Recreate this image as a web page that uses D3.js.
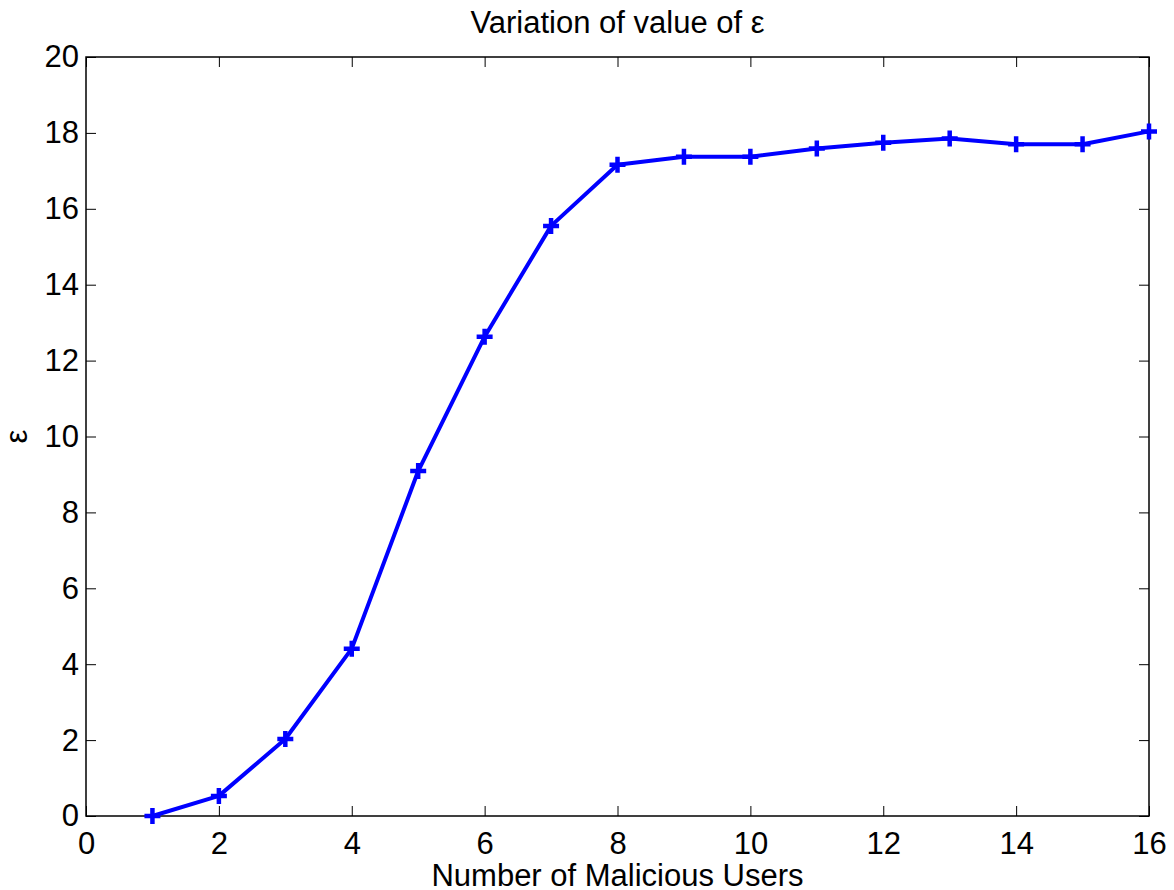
<!DOCTYPE html>
<html>
<head>
<meta charset="utf-8">
<script src="https://cdn.jsdelivr.net/npm/d3@7"></script>
<style>
  body { margin: 0; background: #fff; }
  text { font-family: "Liberation Sans", Arial, sans-serif; fill: #000; }
</style>
</head>
<body>
<svg id="chart" width="1174" height="890"></svg>
<script>
const users = [1, 2, 3, 4, 5, 6, 7, 8, 9, 10, 11, 12, 13, 14, 15, 16];
const epsilon = [0, 0.53, 2.03, 4.41, 9.09, 12.63, 15.55, 17.16, 17.37, 17.37, 17.59, 17.74, 17.85, 17.70, 17.70, 18.04];
const xTicks = [0, 2, 4, 6, 8, 10, 12, 14, 16];
const yTicks = [0, 2, 4, 6, 8, 10, 12, 14, 16, 18, 20];

const svg = d3.select('#chart');
const margin = { top: 57, right: 25, bottom: 74, left: 86 };
const width = 1174, height = 890;
const innerWidth = width - margin.left - margin.right;
const innerHeight = height - margin.top - margin.bottom;

const x = d3.scaleLinear().domain([0, 16]).range([margin.left, margin.left + innerWidth]);
const y = d3.scaleLinear().domain([0, 20]).range([margin.top + innerHeight, margin.top]);

const fontSize = 31;

// frame
svg.append('rect')
  .attr('x', x(0)).attr('y', y(20))
  .attr('width', x(16) - x(0)).attr('height', y(0) - y(20))
  .attr('fill', 'none').attr('stroke', '#000').attr('stroke-width', 1.5);

// inward ticks on all four sides
const tickLen = 10;
const xAxis = d3.axisBottom(x).tickValues(xTicks).tickSizeInner(-tickLen).tickSizeOuter(0).tickPadding(16);
const gx = svg.append('g').attr('transform', 'translate(0,' + y(0) + ')').call(xAxis);
const xTop = d3.axisTop(x).tickValues(xTicks).tickSizeInner(-tickLen).tickSizeOuter(0).tickFormat('');
const gxt = svg.append('g').attr('transform', 'translate(0,' + y(20) + ')').call(xTop);
const yAxis = d3.axisLeft(y).tickValues(yTicks).tickSizeInner(-tickLen).tickSizeOuter(0).tickPadding(7);
const gy = svg.append('g').attr('transform', 'translate(' + x(0) + ',0)').call(yAxis);
const yRight = d3.axisRight(y).tickValues(yTicks).tickSizeInner(-tickLen).tickSizeOuter(0).tickFormat('');
const gyr = svg.append('g').attr('transform', 'translate(' + x(16) + ',0)').call(yRight);

[gx, gxt, gy, gyr].forEach(g => {
  g.attr('font-size', null).attr('font-family', null);
  g.select('.domain').remove();
  g.selectAll('line').attr('stroke', '#000').attr('stroke-width', 1);
  g.selectAll('text').style('font-size', fontSize + 'px').attr('fill', '#000');
});

// line
const data = users.map((u, i) => ({ u: u, e: epsilon[i] }));
const line = d3.line().x(d => x(d.u)).y(d => y(d.e));
svg.append('path').datum(data)
  .attr('d', line)
  .attr('fill', 'none').attr('stroke', '#0000ff').attr('stroke-width', 4)
  .attr('stroke-linejoin', 'round');

// plus markers
const m = 8;
svg.append('g').selectAll('path.mark').data(data).enter().append('path')
  .attr('class', 'mark')
  .attr('d', d => 'M' + (x(d.u) - m) + ',' + y(d.e) + 'H' + (x(d.u) + m) +
                  'M' + x(d.u) + ',' + (y(d.e) - m) + 'V' + (y(d.e) + m))
  .attr('stroke', '#0000ff').attr('stroke-width', 4.5).attr('fill', 'none');

// labels
svg.append('text')
  .attr('x', (x(0) + x(16)) / 2).attr('y', 33)
  .attr('text-anchor', 'middle').style('font-size', fontSize + 'px')
  .text('Variation of value of ε');

svg.append('text')
  .attr('x', (x(0) + x(16)) / 2).attr('y', 886)
  .attr('text-anchor', 'middle').style('font-size', fontSize + 'px')
  .text('Number of Malicious Users');

svg.append('text')
  .attr('transform', 'translate(27,' + ((y(0) + y(20)) / 2) + ') rotate(-90)')
  .attr('text-anchor', 'middle').style('font-size', fontSize + 'px')
  .text('ε');
</script>
</body>
</html>
